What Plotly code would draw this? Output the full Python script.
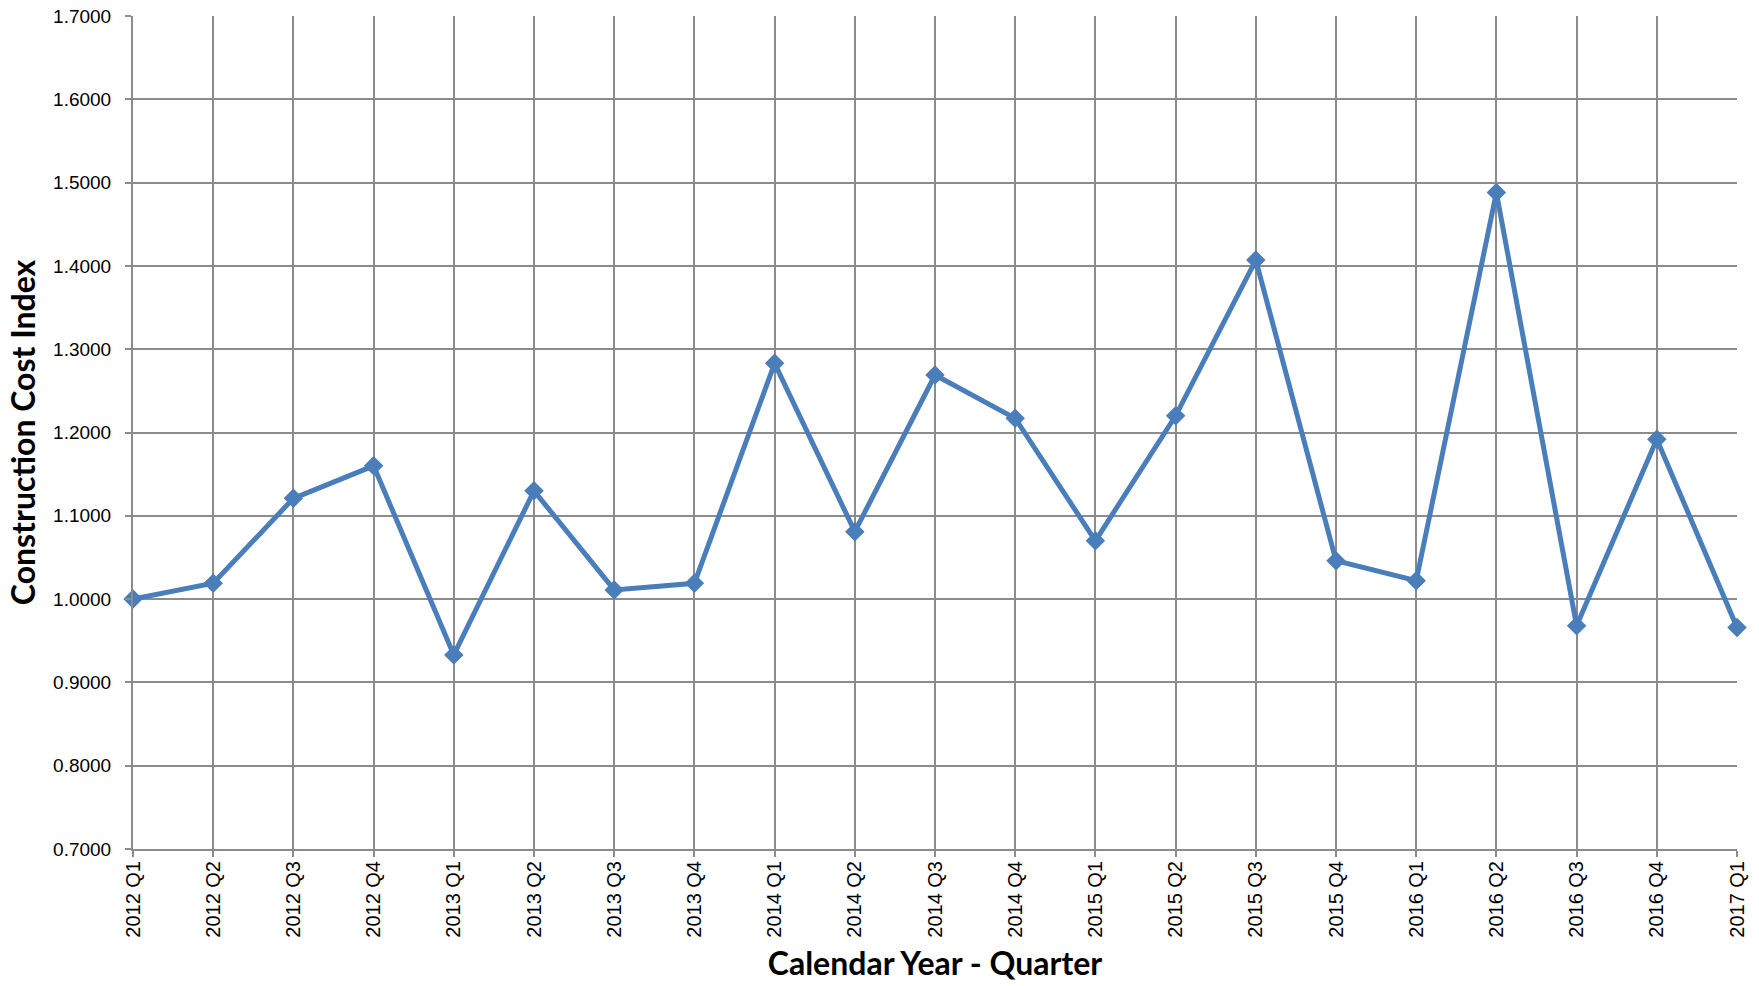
import plotly.graph_objects as go

quarters = ["2012 Q1", "2012 Q2", "2012 Q3", "2012 Q4",
            "2013 Q1", "2013 Q2", "2013 Q3", "2013 Q4",
            "2014 Q1", "2014 Q2", "2014 Q3", "2014 Q4",
            "2015 Q1", "2015 Q2", "2015 Q3", "2015 Q4",
            "2016 Q1", "2016 Q2", "2016 Q3", "2016 Q4",
            "2017 Q1"]
cost_index = [1.0000, 1.0190, 1.1210, 1.1600,
              0.9330, 1.1300, 1.0110, 1.0190,
              1.2830, 1.0810, 1.2690, 1.2170,
              1.0700, 1.2200, 1.4070, 1.0460,
              1.0220, 1.4880, 0.9680, 1.1920,
              0.9660]
y_ticks = [0.7, 0.8, 0.9, 1.0, 1.1, 1.2, 1.3, 1.4, 1.5, 1.6, 1.7]

grid = "#8c8c8c"
blue = "#4a7ebb"

fig = go.Figure()
fig.add_trace(go.Scatter(
    x=list(range(len(quarters))), y=cost_index,
    mode="lines+markers",
    line=dict(color=blue, width=5),
    marker=dict(symbol="diamond", size=15, color=blue),
    cliponaxis=False,
    showlegend=False,
))

fig.update_layout(
    width=1759, height=986,
    margin=dict(l=133, r=22, t=16, b=137),
    paper_bgcolor="white", plot_bgcolor="white",
    font=dict(family="Liberation Sans, Arial, sans-serif", color="black"),
)
fig.update_xaxes(
    range=[0, len(quarters) - 1],
    tickvals=list(range(len(quarters))), ticktext=quarters,
    tickangle=-90, tickfont=dict(size=20),
    showgrid=True, gridcolor=grid, gridwidth=1.5,
    showline=True, linecolor=grid, linewidth=2,
    ticks="outside", ticklen=6, tickcolor=grid, tickwidth=1.5,
    ticklabelstandoff=-4,
    zeroline=False, automargin=False,
    title=dict(text="<b>Calendar Year - Quarter</b>",
               font=dict(family="Lato, Open Sans, sans-serif", size=32),
               standoff=16),
)
fig.update_yaxes(
    range=[0.7, 1.7], tickvals=y_ticks,
    ticktext=[f"{v:.4f}" for v in y_ticks],
    tickfont=dict(size=19),
    showgrid=True, gridcolor=grid, gridwidth=1.5,
    showline=True, linecolor=grid, linewidth=2,
    ticks="outside", ticklen=6, tickcolor=grid, tickwidth=1.5,
    ticklabelstandoff=10,
    zeroline=False, automargin=False,
    title=dict(text="<b>Construction Cost Index</b>",
               font=dict(family="Lato, Open Sans, sans-serif", size=32),
               standoff=8),
)

fig.write_html("out.html", config={"displayModeBar": False},
               post_script="document.body.style.margin='0';")
